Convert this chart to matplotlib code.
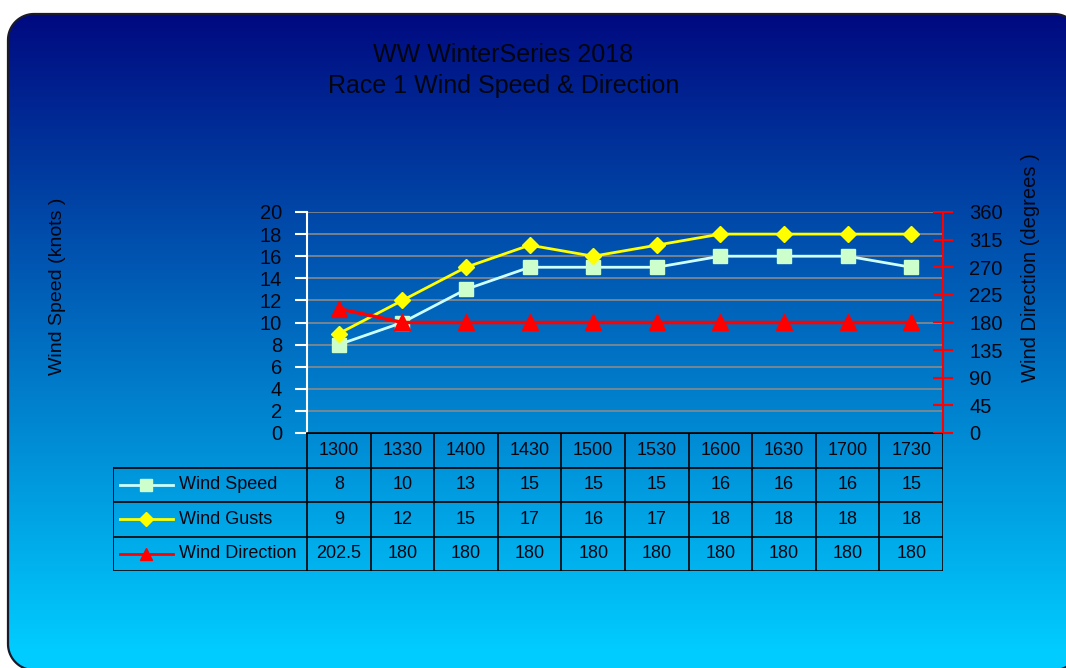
import numpy as np
import matplotlib.pyplot as plt
from matplotlib.patches import Polygon
from matplotlib.lines import Line2D

plt.rcParams['font.family'] = ['Liberation Sans', 'DejaVu Sans']

times = ['1300', '1330', '1400', '1430', '1500', '1530', '1600', '1630', '1700', '1730']
wind_speed = [8, 10, 13, 15, 15, 15, 16, 16, 16, 15]
wind_gusts = [9, 12, 15, 17, 16, 17, 18, 18, 18, 18]
wind_dir = [202.5, 180, 180, 180, 180, 180, 180, 180, 180, 180]
speed_ticks = list(range(0, 21, 2))
dir_ticks = list(range(0, 361, 45))

W, H = 1066, 668


def rounded_rect(x0, y0, x1, y1, r, n=24):
    # corner arcs in pixel coords (y grows downward)
    pts = []
    for cx, cy, a0 in [(x1 - r, y0 + r, -90), (x1 - r, y1 - r, 0), (x0 + r, y1 - r, 90), (x0 + r, y0 + r, 180)]:
        a = np.radians(np.linspace(a0, a0 + 90, n))
        pts += list(zip(cx + r * np.cos(a), cy + r * np.sin(a)))
    return np.array(pts)


fig = plt.figure(figsize=(W / 100, H / 100), dpi=100)
fig.patch.set_facecolor('white')

# background: rounded frame with vertical gradient
bg = fig.add_axes([0, 0, 1, 1])
bg.axis('off')
top_col = np.array([0, 10, 128]) / 255
bot_col = np.array([0, 204, 255]) / 255
yy = np.linspace(0, 1, 300)[:, None]
grad = top_col[None, None, :] * (1 - yy[..., None]) + bot_col[None, None, :] * yy[..., None]
grad = np.repeat(grad, 2, axis=1)
outline = rounded_rect(8, 14, 1080, 670, 26)
fill_low = Polygon(outline, closed=True, facecolor=bot_col, edgecolor='none', zorder=0.5)
bg.add_patch(fill_low)
frame = Polygon(outline, closed=True, facecolor='none', edgecolor='#1a1a2a', linewidth=1.6, zorder=3)
bg.add_patch(frame)
im = bg.imshow(grad, extent=(8, 1080, 650, 14), aspect='auto', zorder=1)
im.set_clip_path(frame)
bg.set_xlim(0, W)
bg.set_ylim(H, 0)

bg.text(503, 55, 'WW WinterSeries 2018', ha='center', va='center', fontsize=18, color='#050510')
bg.text(504, 86, 'Race 1 Wind Speed & Direction', ha='center', va='center', fontsize=18, color='#050510')
bg.text(57, 286, 'Wind Speed (knots )', ha='center', va='center', rotation=90, fontsize=14, color='#050510')
bg.text(1030, 268, 'Wind Direction (degrees )', ha='center', va='center', rotation=90, fontsize=14.5, color='#050510')

# plot area
left, right, top, bottom = 307, 943, 212, 433
ax = fig.add_axes([left / W, 1 - bottom / H, (right - left) / W, (bottom - top) / H])
ax.patch.set_alpha(0)
x = np.arange(len(times))
ax.set_xlim(-0.5, len(times) - 0.5)
ax.set_ylim(0, 20)
ax.set_yticks(speed_ticks)
ax.set_xticks([])
ax.yaxis.grid(True, color='#8a8a8a', linewidth=1.2)
ax.set_axisbelow(True)
for s in ['top', 'right']:
    ax.spines[s].set_visible(False)
ax.spines['left'].set_color('white')
ax.spines['left'].set_linewidth(1.5)
ax.spines['bottom'].set_color('black')
ax.spines['bottom'].set_linewidth(1.2)
ax.tick_params(axis='y', colors='white', length=9, width=1.5, pad=9, labelsize=14.5, labelcolor='#050510')

ax.plot(x, wind_speed, color='#ccffff', linewidth=2, marker='s', markersize=10,
        markerfacecolor='#ccffcc', markeredgecolor='#ccffcc', zorder=3)
ax.plot(x, wind_gusts, color='#ffff00', linewidth=2, marker='D', markersize=8,
        markerfacecolor='#ffff00', markeredgecolor='#ffff00', zorder=3)

ax2 = ax.twinx()
ax2.set_ylim(0, 360)
ax2.set_yticks(dir_ticks)
for s in ['top', 'left', 'bottom']:
    ax2.spines[s].set_visible(False)
ax2.spines['right'].set_color('red')
ax2.spines['right'].set_linewidth(1.5)
ax2.tick_params(axis='y', colors='red', direction='inout', length=14, width=1.5, pad=12,
                labelsize=14.5, labelcolor='#050510')
ax2.plot(x, wind_dir, color='red', linewidth=2.5, marker='^', markersize=11,
         markerfacecolor='red', markeredgecolor='red', zorder=4)

# data table below the plot
tab_left, tab_bottom = 113, 571
lab_w = (left - tab_left) / ((right - left) / len(times))
tab = fig.add_axes([tab_left / W, 1 - tab_bottom / H, (right - tab_left) / W, (tab_bottom - bottom) / H])
tab.set_xlim(-0.5 - lab_w, len(times) - 0.5)
tab.set_ylim(4, 0)
tab.axis('off')
lc = 'black'
lw = 1.2
tab.plot([-0.5, len(times) - 0.5], [0, 0], color=lc, lw=lw)
for r in range(1, 5):
    tab.plot([-0.5 - lab_w, len(times) - 0.5], [r, r], color=lc, lw=lw)
for c in range(len(times) + 1):
    tab.plot([c - 0.5, c - 0.5], [0, 4], color=lc, lw=lw)
tab.plot([-0.5 - lab_w] * 2, [1, 4], color=lc, lw=lw)

for i, t in enumerate(times):
    tab.text(i, 0.5, t, ha='center', va='center', fontsize=13, color='#050510')
rows = [
    ('Wind Speed', wind_speed, '#ccffff', 's', '#ccffcc', 8),
    ('Wind Gusts', wind_gusts, '#ffff00', 'D', '#ffff00', 7),
    ('Wind Direction', wind_dir, 'red', '^', 'red', 9),
]
for r, (name, vals, col, mk, mcol, ms) in enumerate(rows, start=1):
    y = r + 0.5
    for i, v in enumerate(vals):
        tab.text(i, y, f'{v:g}', ha='center', va='center', fontsize=13, color='#050510')
    x0 = -0.5 - lab_w
    tab.add_line(Line2D([x0 + 0.11, x0 + 0.94], [y, y], color=col, lw=2))
    tab.plot([x0 + 0.525], [y], marker=mk, markersize=ms, color=mcol)
    tab.text(x0 + 1.03, y, name, ha='left', va='center', fontsize=13, color='#050510')

fig.savefig('out.png', dpi=100)
